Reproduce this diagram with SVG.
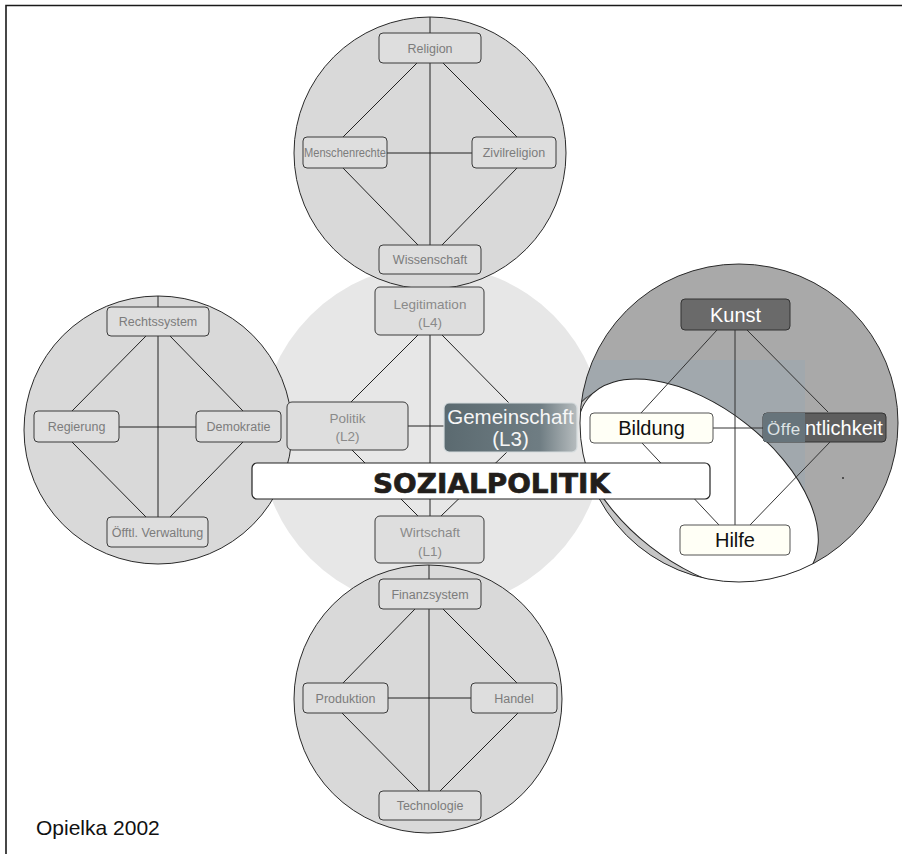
<svg xmlns="http://www.w3.org/2000/svg" width="902" height="854" viewBox="0 0 902 854">
<defs>
<style>
.frame{stroke:#1a1a1a;stroke-width:1.6;fill:none}
.ring{fill:#d9d9d9;stroke:#2a2a2a;stroke-width:1}
.box{fill:#dedede;stroke:#3a3a3a;stroke-width:1}
.t{font-family:"Liberation Sans",Arial,sans-serif;text-anchor:middle}
.s{font-size:12.5px;fill:#7c7c7c}
.m{font-size:13.5px;fill:#8a8a8a}
.ln{stroke:#222;stroke-width:1;fill:none}
.lr{stroke:#333;stroke-width:1;fill:none}
.light{fill:#fffff6;stroke:#555;stroke-width:1}
.big{font-size:20px}
</style>
<linearGradient id="gem" x1="0" y1="0" x2="1" y2="0">
<stop offset="0" stop-color="#5b6a70"/>
<stop offset="0.72" stop-color="#6f7d83"/>
<stop offset="1" stop-color="#b6bcbe"/>
</linearGradient>
<clipPath id="rc"><circle cx="739" cy="423" r="159"/></clipPath>
<clipPath id="oc"><rect x="763" y="413" width="42" height="29"/></clipPath>
</defs>
<rect x="0" y="0" width="902" height="854" fill="#fff"/>
<path class="frame" d="M6 854V5.5H902"/>

<g id="center-circle"><circle cx="432" cy="437" r="172" fill="#e7e7e7"/></g>
<g id="top-circle"><circle class="ring" cx="430" cy="153" r="136"/></g>
<g id="left-circle"><circle class="ring" cx="158" cy="430" r="134"/></g>
<g id="bottom-circle"><circle class="ring" cx="428" cy="699" r="134"/></g>
<g id="right-circle">
<circle cx="739" cy="423" r="159" fill="#a9a9a9"/>
<g clip-path="url(#rc)">
<rect x="570" y="360" width="235" height="240" fill="#a1a8ad"/>
<ellipse cx="689" cy="494" rx="142" ry="81" transform="rotate(38 689 494)" fill="#c6c6c6" stroke="#444"/>
<ellipse cx="698" cy="485" rx="140" ry="78" transform="rotate(38 698 485)" fill="#fff" stroke="#222"/>
</g>
<circle cx="739" cy="423" r="159" fill="none" stroke="#2a2a2a"/>
<circle cx="843" cy="478" r="1" fill="#333"/>
</g>

<g id="connectors">
<path class="ln" d="M430 17V245M387 153H472M417 63L343 137M443 63L517 137M343 168L418 245M517 168L442 245"/>
<path class="ln" d="M158 296V517M119 427H196M146 336L72 411M170 336L243 411M72 442L146 517M243 442L170 517"/>
<path class="ln" d="M429 565V791M388 698H471M415 609L343 683M443 609L517 683M342 713L419 791M518 713L440 791"/>
<path class="ln" d="M430 335V516M408 426H444M418 335L351 402M442 335L509 403M352 450L418 516M507 452L441 516"/>
<path class="lr" d="M735 330V525M713 428H763M717 330L641 413M747 330L828 412M642 443L719 525M830 442L750 525"/>
</g>

<g id="religion"><rect class="box" x="379" y="33" width="102" height="30" rx="4"/><text class="t s" x="430" y="52.5">Religion</text></g>
<g id="menschenrechte"><rect class="box" x="303" y="137" width="84" height="31" rx="4"/><text class="t s" x="345" y="157" textLength="82" lengthAdjust="spacingAndGlyphs">Menschenrechte</text></g>
<g id="zivilreligion"><rect class="box" x="472" y="137" width="84" height="31" rx="4"/><text class="t s" x="514" y="157">Zivilreligion</text></g>
<g id="wissenschaft"><rect class="box" x="379" y="245" width="102" height="29" rx="4"/><text class="t s" x="430" y="264">Wissenschaft</text></g>

<g id="rechtssystem"><rect class="box" x="107" y="307" width="102" height="29" rx="4"/><text class="t s" x="158" y="326">Rechtssystem</text></g>
<g id="regierung"><rect class="box" x="34" y="411" width="85" height="31" rx="4"/><text class="t s" x="76.5" y="431">Regierung</text></g>
<g id="demokratie"><rect class="box" x="196" y="411" width="85" height="31" rx="4"/><text class="t s" x="238.5" y="431">Demokratie</text></g>
<g id="verwaltung"><rect class="box" x="107" y="517" width="101" height="30" rx="4"/><text class="t s" x="157.5" y="536.5">Öfftl. Verwaltung</text></g>

<g id="finanzsystem"><rect class="box" x="379" y="579" width="102" height="30" rx="4"/><text class="t s" x="430" y="598.5">Finanzsystem</text></g>
<g id="produktion"><rect class="box" x="303" y="683" width="85" height="30" rx="4"/><text class="t s" x="345.5" y="702.5">Produktion</text></g>
<g id="handel"><rect class="box" x="471" y="683" width="86" height="30" rx="4"/><text class="t s" x="514" y="702.5">Handel</text></g>
<g id="technologie"><rect class="box" x="379" y="791" width="102" height="29" rx="4"/><text class="t s" x="430" y="810">Technologie</text></g>

<g id="legitimation"><rect class="box" x="375" y="287" width="109" height="48" rx="5"/><text class="t m" x="430" y="308.5">Legitimation</text><text class="t m" x="430" y="327">(L4)</text></g>
<g id="politik"><rect class="box" x="287" y="402" width="121" height="48" rx="5"/><text class="t m" x="347.5" y="423">Politik</text><text class="t m" x="347.5" y="441">(L2)</text></g>
<g id="gemeinschaft"><rect x="444" y="403" width="133" height="49" rx="5" fill="url(#gem)" stroke="#d6dcde" stroke-width="1.2"/><text class="t" x="510.5" y="423.5" font-size="20.5px" fill="#f6f6f6">Gemeinschaft</text><text class="t" x="510.5" y="446" font-size="20.5px" fill="#f6f6f6">(L3)</text></g>
<g id="wirtschaft"><rect class="box" x="375" y="516" width="109" height="47" rx="5"/><text class="t m" x="430" y="537">Wirtschaft</text><text class="t m" x="430" y="556">(L1)</text></g>

<g id="kunst"><rect x="681" y="299" width="109" height="31" rx="4" fill="#6a6a6a" stroke="#333"/><text class="t big" x="735.5" y="322" fill="#fff">Kunst</text></g>
<g id="bildung"><rect class="light" x="590" y="413" width="123" height="30" rx="4"/><text class="t big" x="651.5" y="435" fill="#111">Bildung</text></g>
<g id="oeffentlichkeit"><rect x="763" y="413" width="123" height="29" rx="4" fill="#5e5e5e" stroke="#333"/><rect x="763" y="413" width="123" height="29" rx="4" fill="#67747b" clip-path="url(#oc)"/><text font-family="Liberation Sans, Arial, sans-serif" y="435"><tspan x="767" font-size="17px" fill="#dfe4e6" letter-spacing="0.5">Öffe</tspan><tspan x="805" font-size="20px" fill="#fff">ntlichkeit</tspan></text></g>
<g id="hilfe"><rect class="light" x="680" y="525" width="110" height="30" rx="4"/><text class="t big" x="735" y="547" fill="#111">Hilfe</text></g>

<g id="sozialpolitik"><rect x="252" y="463" width="458" height="36" rx="5" fill="#fff" stroke="#222" stroke-width="1.2"/><text x="373" y="493" font-family="DejaVu Sans, sans-serif" font-weight="bold" font-size="27px" fill="#221e1b" stroke="#221e1b" stroke-width="0.7" textLength="237" lengthAdjust="spacingAndGlyphs">SOZIALPOLITIK</text></g>

<text x="36" y="835" font-family="Liberation Sans, Arial, sans-serif" font-size="21px" fill="#111">Opielka 2002</text>
</svg>
